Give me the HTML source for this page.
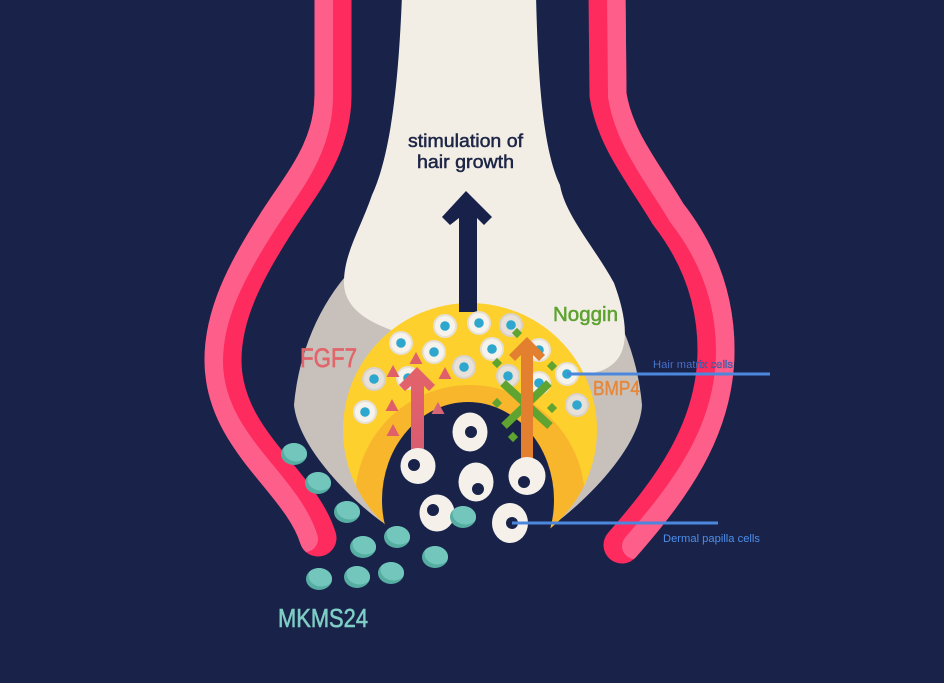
<!DOCTYPE html>
<html>
<head>
<meta charset="utf-8">
<style>
  html,body{margin:0;padding:0;background:#19234a;}
  svg{display:block;}
  text{font-family:"Liberation Sans", sans-serif;}
</style>
</head>
<body>
<svg width="944" height="683" viewBox="0 0 944 683" xmlns="http://www.w3.org/2000/svg">
  <defs>
    <mask id="mL" maskUnits="userSpaceOnUse" x="0" y="-20" width="944" height="720">
      <path d="M333,-10 L333,95 C333,150 300,185 275,225 C245,272 223,315 223,360 C223,440 300,480 318,538" fill="none" stroke="#fff" stroke-width="37" stroke-linecap="round"/>
    </mask>
    <mask id="mR" maskUnits="userSpaceOnUse" x="0" y="-20" width="944" height="720">
      <path d="M607,-10 L608,95 C615,140 645,175 668,214 C700,255 716,300 716,350 C716,430 670,490 622,545" fill="none" stroke="#fff" stroke-width="37" stroke-linecap="round"/>
    </mask>
    <clipPath id="yc"><circle cx="470" cy="430" r="127"/></clipPath>
    <clipPath id="mkc"><ellipse cx="0" cy="0" rx="13" ry="11"/></clipPath>
    <g id="mk">
      <ellipse cx="0" cy="0" rx="13" ry="11" fill="#56aea2"/>
      <ellipse cx="2.5" cy="-3.5" rx="13" ry="11" fill="#72c6bc" clip-path="url(#mkc)"/>
    </g>
    <g id="hc">
      <circle r="12" fill="#e6e0d7"/>
      <circle r="10" fill="#f6f2ec"/>
      <circle r="4.8" fill="#2ea7cf"/>
    </g>
    <g id="hg">
      <circle r="12" fill="#d9d2ca"/>
      <circle r="10" fill="#e7e1d9"/>
      <circle r="4.8" fill="#2ea7cf"/>
    </g>
    <linearGradient id="rg" x1="0" y1="0" x2="0" y2="1">
      <stop offset="0" stop-color="#e4636a"/>
      <stop offset="1" stop-color="#d95c70"/>
    </linearGradient>
  </defs>

  <rect width="944" height="683" fill="#19234a"/>

  <!-- Left tube -->
  <path d="M333,-10 L333,95 C333,150 300,185 275,225 C245,272 223,315 223,360 C223,440 300,480 318,538" fill="none" stroke="#fd2b5e" stroke-width="37" stroke-linecap="round"/>
  <g mask="url(#mL)">
    <path transform="translate(-13,1)" d="M333,-10 L333,95 C333,150 300,185 275,225 C245,272 223,315 223,360 C223,440 300,480 318,538" fill="none" stroke="#fd5f8a" stroke-width="26" stroke-linecap="round"/>
  </g>

  <!-- Right tube -->
  <path d="M607,-10 L608,95 C615,140 645,175 668,214 C700,255 716,300 716,350 C716,430 670,490 622,545" fill="none" stroke="#fd2b5e" stroke-width="37" stroke-linecap="round"/>
  <g mask="url(#mR)">
    <path transform="translate(13,1)" d="M607,-10 L608,95 C615,140 645,175 668,214 C700,255 716,300 716,350 C716,430 670,490 622,545" fill="none" stroke="#fd5f8a" stroke-width="26" stroke-linecap="round"/>
  </g>

  <!-- Grey bulb -->
  <path d="M382,522 C345,495 298,445 294,405 A175 212 0 0 1 642,405 C640,445 592,495 557,522 Z" fill="#c8c1bb"/>

  <!-- Cream shaft -->
  <path d="M402,-5 L536,-5 C538,80 543,150 560,185 C565,215 595,248 614,283 C624,310 632,345 615,362 C600,376 585,374 570,370 L470,350 L400,333 C375,325 346,312 344,285 C343,255 360,230 372,195 C388,160 398,100 402,-5 Z" fill="#f3eee5"/>

  <!-- Yellow crescent -->
  <circle cx="470" cy="430" r="127" fill="#fdd02e"/>
  <circle cx="470" cy="500" r="115" fill="#f8b62d" clip-path="url(#yc)"/>
  <!-- Dermal papilla -->
  <ellipse cx="468" cy="500" rx="86" ry="98" fill="#19234a"/>
  <rect x="380" y="560" width="180" height="60" fill="#19234a"/>

  <!-- Hair growth arrow -->
  <polygon points="466,191 492,217 484,225 477,218 477,312 459,312 459,218 450,225 442,217" fill="#17214a"/>

  <!-- Hair matrix cells -->
  <use href="#hc" x="445" y="326"/>
  <use href="#hc" x="479" y="323"/>
  <use href="#hg" x="511" y="325"/>
  <use href="#hc" x="401" y="343"/>
  <use href="#hc" x="434" y="352"/>
  <use href="#hc" x="492" y="349"/>
  <use href="#hc" x="539" y="350"/>
  <use href="#hg" x="464" y="367"/>
  <use href="#hg" x="374" y="379"/>
  <use href="#hc" x="408" y="378"/>
  <use href="#hg" x="508" y="376"/>
  <use href="#hc" x="539" y="383"/>
  <use href="#hc" x="567" y="374"/>
  <use href="#hc" x="365" y="412"/>
  <use href="#hg" x="577" y="405"/>

  <!-- FGF7 triangles -->
  <g fill="#e0606a">
    <polygon points="416,352 422.5,364 409.5,364"/>
    <polygon points="393,365 399.5,377 386.5,377"/>
    <polygon points="445,367 451.5,379 438.5,379"/>
    <polygon points="392,399 398.5,411 385.5,411"/>
    <polygon points="438,402 444.5,414 431.5,414" fill="#d76676"/>
    <polygon points="393,424 399.5,436 386.5,436"/>
  </g>

  <!-- Red arrow -->
  <polygon points="417,367 435,385 429,391 424,386 424,452 411,452 411,386 405,391 399,385" fill="url(#rg)"/>

  <!-- Noggin X and diamonds -->
  <g stroke="#5fa330" stroke-width="8" stroke-linecap="butt">
    <line x1="503" y1="383" x2="550" y2="426"/>
    <line x1="549" y1="383" x2="504" y2="426"/>
  </g>
  <g fill="#5fa330">
    <rect x="-3.6" y="-3.6" width="7.2" height="7.2" transform="translate(517,333) rotate(45)"/>
    <rect x="-3.6" y="-3.6" width="7.2" height="7.2" transform="translate(497,363) rotate(45)"/>
    <rect x="-3.6" y="-3.6" width="7.2" height="7.2" transform="translate(552,366) rotate(45)"/>
    <rect x="-3.6" y="-3.6" width="7.2" height="7.2" transform="translate(497,403) rotate(45)"/>
    <rect x="-3.6" y="-3.6" width="7.2" height="7.2" transform="translate(552,408) rotate(45)"/>
    <rect x="-3.6" y="-3.6" width="7.2" height="7.2" transform="translate(513,437) rotate(45)"/>
  </g>

  <!-- Orange arrow -->
  <polygon points="527,337 545,355 539,361 533,355 533,463 521,463 521,355 515,361 509,355" fill="#e2802f"/>

  <!-- Dermal papilla cells -->
  <g fill="#f5f1ea">
    <ellipse cx="470" cy="432" rx="17.5" ry="19.5"/>
    <ellipse cx="418" cy="466" rx="17.5" ry="18"/>
    <ellipse cx="476" cy="482" rx="17.5" ry="19.5"/>
    <ellipse cx="527" cy="476" rx="18.5" ry="19"/>
    <ellipse cx="437" cy="513" rx="17.5" ry="18.5"/>
    <ellipse cx="510" cy="523" rx="18" ry="20"/>
  </g>
  <g fill="#19234a">
    <circle cx="471" cy="432" r="6"/>
    <circle cx="414" cy="465" r="6"/>
    <circle cx="478" cy="489" r="6"/>
    <circle cx="524" cy="482" r="6"/>
    <circle cx="433" cy="510" r="6"/>
    <circle cx="512" cy="523" r="6"/>
  </g>

  <!-- MKMS24 cells -->
  <use href="#mk" x="294" y="454"/>
  <use href="#mk" x="318" y="483"/>
  <use href="#mk" x="347" y="512"/>
  <use href="#mk" x="397" y="537"/>
  <use href="#mk" x="363" y="547"/>
  <use href="#mk" x="435" y="557"/>
  <use href="#mk" x="463" y="517"/>
  <use href="#mk" x="319" y="579"/>
  <use href="#mk" x="357" y="577"/>
  <use href="#mk" x="391" y="573"/>

  <!-- Pointer lines -->
  <line x1="567" y1="374" x2="770" y2="374" stroke="#4b87dd" stroke-width="3"/>
  <line x1="512" y1="523" x2="718" y2="523" stroke="#4b87dd" stroke-width="3"/>

  <!-- Labels -->
  <text x="408" y="147" font-size="18" fill="#1e2647" stroke="#1e2647" stroke-width="0.5" textLength="115" lengthAdjust="spacingAndGlyphs">stimulation of</text>
  <text x="417" y="168" font-size="18" fill="#1e2647" stroke="#1e2647" stroke-width="0.5" textLength="97" lengthAdjust="spacingAndGlyphs">hair growth</text>
  <text x="300" y="367" font-size="27" fill="#e0666b" stroke="#e0666b" stroke-width="0.7" textLength="57" lengthAdjust="spacingAndGlyphs">FGF7</text>
  <text x="553" y="321" font-size="20" fill="#5ca32f" stroke="#5ca32f" stroke-width="0.5" textLength="65" lengthAdjust="spacingAndGlyphs">Noggin</text>
  <text x="593" y="395" font-size="20" fill="#e6883b" stroke="#e6883b" stroke-width="0.5" textLength="47" lengthAdjust="spacingAndGlyphs">BMP4</text>
  <text x="278" y="627" font-size="26" fill="#7fcdc5" stroke="#7fcdc5" stroke-width="0.6" textLength="90" lengthAdjust="spacingAndGlyphs">MKMS24</text>
  <text x="653" y="368" font-size="11" fill="#4d8ee8" stroke="#2f2a66" stroke-width="0.3" textLength="80" lengthAdjust="spacingAndGlyphs">Hair matrix cells</text>
  <text x="663" y="542" font-size="11" fill="#4d8ee8" textLength="97" lengthAdjust="spacingAndGlyphs">Dermal papilla cells</text>
</svg>
</body>
</html>
